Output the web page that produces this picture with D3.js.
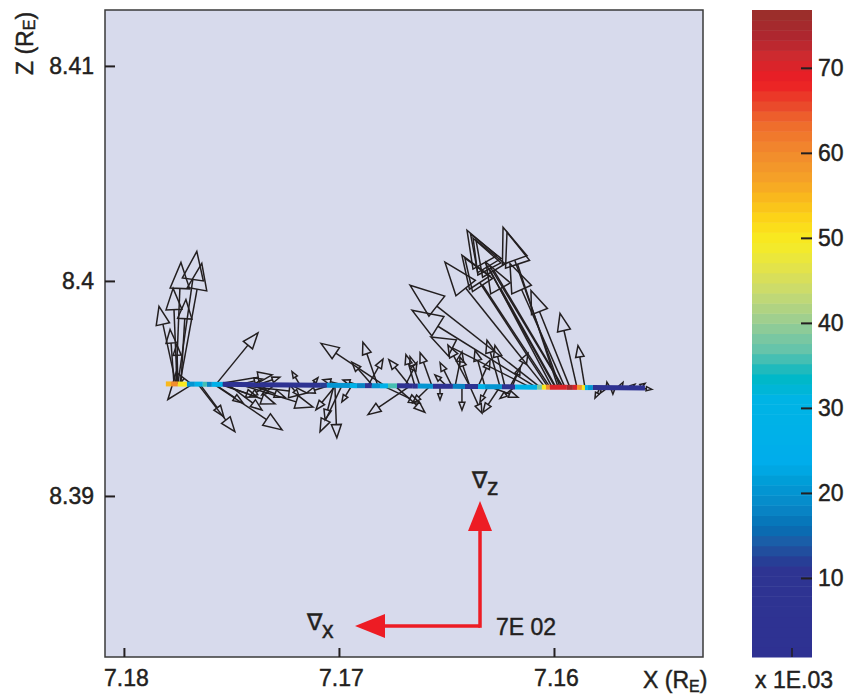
<!DOCTYPE html>
<html>
<head>
<meta charset="utf-8">
<script src="https://cdn.jsdelivr.net/npm/d3@7"></script>
<style>
  body { margin: 0; background: #fff; }
  svg { display: block; }
  text { font-family: "Liberation Sans", Arial, Helvetica, sans-serif; fill: #231f20;
         stroke: #231f20; stroke-width: 0.45px; }
</style>
</head>
<body>
<svg id="chart" width="846" height="695"></svg>
<script>
// Axis ticks
const xTicks = [7.18, 7.17, 7.16];
const xTickLabels = ["7.18", "7.17", "7.16"];
const zTicks = [8.41, 8.40, 8.39];
const zTickLabels = ["8.41", "8.4", "8.39"];
const colorTicks = [10, 20, 30, 40, 50, 60, 70];

// Spacecraft track in the X-Z plane (R_E) and the colour-coded quantity (x 1E-03)
const pathX = [7.17805, 7.17781, 7.17749, 7.17707, 7.17670, 7.17633, 7.17614, 7.17591, 7.17540, 7.17367,
               7.17228, 7.17088, 7.17056, 7.16949, 7.16916, 7.16879, 7.16847, 7.16809, 7.16772, 7.16730,
               7.16656, 7.16633, 7.16563, 7.16470, 7.16414, 7.16353, 7.16321, 7.16242, 7.16181, 7.16079,
               7.16056, 7.16037, 7.16019, 7.15940, 7.15912, 7.15893, 7.15870, 7.15856, 7.15842, 7.15819,
               7.15577];
const pathZ = [8.39521, 8.39521, 8.39521, 8.39520, 8.39520, 8.39520, 8.39519, 8.39519, 8.39519, 8.39517,
               8.39516, 8.39515, 8.39515, 8.39514, 8.39513, 8.39513, 8.39513, 8.39512, 8.39512, 8.39512,
               8.39511, 8.39511, 8.39510, 8.39510, 8.39509, 8.39509, 8.39508, 8.39508, 8.39507, 8.39506,
               8.39506, 8.39506, 8.39506, 8.39505, 8.39505, 8.39505, 8.39504, 8.39504, 8.39504, 8.39504,
               8.39502];
const pathValue = [55, 60, 50, 20, 28, 36, 18, 26, 4, 5,
                   6, 12, 20, 28, 18, 8, 20, 27, 36, 5,
                   8, 20, 5, 18, 10, 28, 20, 6, 29, 38,
                   50, 60, 70, 75, 70, 58, 50, 30, 20, 4,
                   4];

// Gradient vectors attached to the track: base X (R_E), in-plane components (x, z) and out-of-plane y
const arrowX = [7.17749, 7.17758, 7.17740, 7.17753, 7.17758, 7.17749, 7.17740, 7.17735, 7.17767,
                7.17572, 7.17572, 7.17581, 7.17656, 7.17647, 7.17577, 7.17553, 7.17544, 7.17181, 7.17507,
                7.17460, 7.17516, 7.17414, 7.17460, 7.17377,
                7.16786, 7.16819, 7.16865, 7.16670, 7.16647, 7.16693, 7.16842, 7.16972, 7.16902, 7.16986,
                7.17019, 7.17014, 7.17023, 7.16670, 7.16795, 7.16740, 7.16428, 7.16391, 7.17042, 7.16940,
                7.16623, 7.16474, 7.16391, 7.16251, 7.16228, 7.16205, 7.16577, 7.16251, 7.16298, 7.16307,
                7.16391, 7.16321, 7.16498, 7.16353,
                7.16567, 7.16460, 7.16195, 7.16530, 7.16181, 7.17330, 7.17298, 7.17228, 7.17126,
                7.15972, 7.15995, 7.16009, 7.16028, 7.16042, 7.16065, 7.16084, 7.16112, 7.15949, 7.15926,
                7.15893, 7.15856, 7.15991, 7.15960, 7.16019, 7.15958, 7.15981,
                7.15786, 7.15767, 7.15726, 7.15749, 7.15693, 7.15647, 7.15609, 7.15600];
const gradX = [-106, -28, -123, 22, 95, 6, 67, -28, 22,
               -235, -314, -381, -207, -134, -157, -207, -297, 45, -431,
               -409, -190, -196, -123, -123,
               358, 84, -84, 118, 50, -67, 118, 123, 95, 123,
               -11, 112, 50, 235, -207, -168, 0, -67, 129, 56,
               56, 67, 56, 73, 56, -101, 95, 95, -157, 45,
               123, 56, 67, -67,
               67, -39, -45, 0, 84, 101, 73, -50, -34,
               319, 493, 442, 482, 560, 728, 694, 554, 308, 218,
               95, 39, 392, 515, 476, 487, 286,
               28, 22, 0, 6, -17, -28, -39, -67];
const gradZ = [742, 680, 675, 535, 434, 221, -87, 473, 305,
               288, 53, -255, -266, -182, -104, -70, -109, 76, -48,
               -126, -143, -70, 31, 42,
               238, 244, 148, 148, 176, 132, 132, 31, 31, -260,
               -294, -137, -193, -160, -98, -148, -132, -148, -42, -92,
               165, 132, 165, 260, 232, 188, -92, -143, -59, -87,
               232, 204, 64, 148,
               188, 193, 109, -76, -64, -64, -56, -59, 42,
               896, 879, 834, 739, 700, 571, 431, 280, 694, 543,
               414, 235, 700, 857, 722, 823, 868,
               -59, -31, -36, 31, 31, 20, 25, -8];
const gradY = [0, 0, 0, 0, 0, 0, 690, 0, 0,
               0, 0, 0, 0, 0, 0, 0, 0, 0, 0,
               0, 0, 0, 0, 0,
               0, 0, 0, 0, 0, 0, 0, 0, 0, 0,
               0, 0, 0, 0, 0, 0, 0, 0, 0, 0,
               0, 0, 0, 0, 0, 0, 0, 0, 0, 0,
               0, 0, 0, 0,
               0, 0, 0, 0, 0, 0, 0, 0, 0,
               0, 0, 0, 0, 0, 0, 0, 0, 0, 0,
               0, 0, 0, 0, 0, 0, 0,
               0, 0, 0, 0, 0, 0, 0, 0];

// Reference vector of the key
const keyValue = 700;
const keyLabel = "7E 02";
const keyOriginX = 7.16344;
const keyOriginZ = 8.38395;

// Colour map of the bar (value -> colour)
const colorStops = [0, 11, 12.5, 14, 16, 18.5, 21.5, 23.5, 31, 33.5, 35, 36.5, 38.5, 40.5, 43.5,
                    46.5, 49.5, 52, 54.5, 57, 60, 63.5, 65.5, 68.5, 71.5, 73.5, 77];
const colorValues = ["#2e3192", "#2e3492", "#244398", "#1e5aa5", "#0670b4", "#0888c8", "#009ed8",
                     "#00adeb", "#00b4e5", "#00b8c8", "#2bbbb9", "#5ec3ad", "#7fc8a0", "#a0cf8e",
                     "#c7da71", "#e3e34a", "#f7ec23", "#fdd817", "#f9bb1c", "#f5a128", "#f18b2d",
                     "#ef6b2c", "#ea4a2b", "#ed1c24", "#cc2a2f", "#b0262f", "#96302a"];
const colorMin = 0.7, colorMax = 76.8, colorBands = 64;

const svg = d3.select("#chart");
const ink = "#231f20";

const plot = { left: 105, right: 703, top: 10, bottom: 657 };
const x = d3.scaleLinear().domain([7.18088, 7.15307]).range([plot.left, plot.right]);
const z = d3.scaleLinear().domain([8.38251, 8.41260]).range([plot.bottom, plot.top]);
const vecLen = d3.scaleLinear().domain([0, keyValue]).range([0, 125]);

const cont = d3.scaleLinear().domain(colorStops).range(colorValues).interpolate(d3.interpolateRgb).clamp(true);
const bandW = (colorMax - colorMin) / colorBands;
const quant = v => {
  const i = Math.max(0, Math.min(colorBands - 1, Math.floor((v - colorMin) / bandW)));
  return cont(colorMin + (i + 0.5) * bandW);
};

// Plot background
svg.append("rect")
  .attr("x", plot.left).attr("y", plot.top)
  .attr("width", plot.right - plot.left).attr("height", plot.bottom - plot.top)
  .attr("fill", "#d7daec");

svg.append("clipPath").attr("id", "plotclip")
  .append("rect").attr("x", plot.left).attr("y", plot.top)
  .attr("width", plot.right - plot.left).attr("height", plot.bottom - plot.top);

const g = svg.append("g").attr("clip-path", "url(#plotclip)");

// Gradient arrows
const baseZ = d3.scaleLinear().domain(pathX).range(pathZ);
const arrows = arrowX.map((bx, i) => {
  const x0 = x(bx), y0 = z(baseZ(bx));
  const dx = -vecLen(gradX[i]);   // +X points to the left (reversed axis)
  const dy = -vecLen(gradZ[i]);
  const L = Math.hypot(dx, dy);
  const L3 = Math.hypot(L, vecLen(gradY[i]));
  const h = 3.5 + 0.185 * L3;
  const w = 0.75 * h;
  const ux = dx / L, uy = dy / L;
  const nx = -uy, ny = ux;
  const tx = x0 + dx, ty = y0 + dy;
  const hx = tx - ux * h, hy = ty - uy * h;
  return { x0, y0, hx, hy,
           head: [[tx, ty], [hx + nx * w / 2, hy + ny * w / 2], [hx - nx * w / 2, hy - ny * w / 2]] };
});

const ag = g.append("g").attr("stroke", ink).attr("stroke-width", 1.5).attr("fill", "none");
ag.selectAll("line.shaft").data(arrows).join("line").attr("class", "shaft")
  .attr("x1", d => d.x0).attr("y1", d => d.y0)
  .attr("x2", d => d.hx).attr("y2", d => d.hy);
ag.selectAll("path.head").data(arrows).join("path").attr("class", "head")
  .attr("stroke-linejoin", "miter")
  .attr("d", d => d3.line()(d.head) + "Z");

// Colour-coded track
const segs = d3.range(pathX.length - 1).map(i => ({
  x1: x(pathX[i]), y1: z(pathZ[i]), x2: x(pathX[i + 1]), y2: z(pathZ[i + 1]), v: pathValue[i]
}));
g.append("g").selectAll("line").data(segs).join("line")
  .attr("x1", d => d.x1).attr("y1", d => d.y1)
  .attr("x2", d => d.x2).attr("y2", d => d.y2)
  .attr("stroke", d => quant(d.v)).attr("stroke-width", 5).attr("stroke-linecap", "butt");

// Key: reference vectors
const red = "#ed1c24";
const kx = x(keyOriginX), kz = z(keyOriginZ);
const keyLen = vecLen(keyValue);
const kh = 30, kw = 24;
g.append("line").attr("x1", kx).attr("y1", kz).attr("x2", kx - keyLen + kh).attr("y2", kz)
  .attr("stroke", red).attr("stroke-width", 3.5);
g.append("path").attr("fill", red)
  .attr("d", d3.line()([[kx - keyLen, kz], [kx - keyLen + kh, kz - kw / 2], [kx - keyLen + kh, kz + kw / 2]]) + "Z");
g.append("line").attr("x1", kx).attr("y1", kz + 1.75).attr("x2", kx).attr("y2", kz - keyLen + kh)
  .attr("stroke", red).attr("stroke-width", 3.5);
g.append("path").attr("fill", red)
  .attr("d", d3.line()([[kx, kz - keyLen], [kx - kw / 2, kz - keyLen + kh], [kx + kw / 2, kz - keyLen + kh]]) + "Z");

const fs = 23;
const nz = svg.append("text").attr("x", kx - 8).attr("y", kz - keyLen - 13).attr("font-size", fs);
nz.append("tspan").text("∇");
nz.append("tspan").attr("dy", 7).text("z");
const nxl = svg.append("text").attr("x", kx - keyLen - 48).attr("y", kz + 4).attr("font-size", fs);
nxl.append("tspan").text("∇");
nxl.append("tspan").attr("dy", 8).text("x");
svg.append("text").attr("x", kx + 16).attr("y", kz + 9).attr("font-size", fs).text(keyLabel);

// Frame
svg.append("rect")
  .attr("x", plot.left).attr("y", plot.top)
  .attr("width", plot.right - plot.left).attr("height", plot.bottom - plot.top)
  .attr("fill", "none").attr("stroke", "#3a3a3a").attr("stroke-width", 1.5);

// X axis: ticks drawn inward
const xa = svg.append("g").attr("transform", `translate(0,${plot.bottom})`)
  .call(d3.axisBottom(x).tickValues(xTicks).tickSize(-9).tickFormat((d, i) => xTickLabels[i]));
xa.select(".domain").remove();
xa.selectAll(".tick line").attr("stroke", ink).attr("stroke-width", 2);
xa.selectAll(".tick text").attr("font-size", fs).attr("fill", ink)
  .attr("font-family", "Liberation Sans, Arial, sans-serif").attr("y", 13).attr("dy", "0.71em").attr("dx", 2);

// Z axis: ticks drawn inward
const za = svg.append("g").attr("transform", `translate(${plot.left},0)`)
  .call(d3.axisLeft(z).tickValues(zTicks).tickSize(-10).tickFormat((d, i) => zTickLabels[i]));
za.select(".domain").remove();
za.selectAll(".tick line").attr("stroke", ink).attr("stroke-width", 2);
za.selectAll(".tick text").attr("font-size", fs).attr("fill", ink)
  .attr("font-family", "Liberation Sans, Arial, sans-serif").attr("x", -11);

// Axis titles
const xt = svg.append("text").attr("x", 643).attr("y", 688).attr("font-size", fs);
xt.append("tspan").text("X (R");
xt.append("tspan").attr("font-size", 16).attr("dy", 4).text("E");
xt.append("tspan").attr("dy", -4).text(")");

const zt = svg.append("text").attr("transform", "translate(33,75) rotate(-90)").attr("font-size", fs);
zt.append("tspan").text("Z (R");
zt.append("tspan").attr("font-size", 16).attr("dy", 2).text("E");
zt.append("tspan").attr("dy", -2).text(")");

// Colour bar
const cb = { left: 752, right: 812 };
const c = d3.scaleLinear().domain([colorMin, colorMax]).range([plot.bottom, plot.top]);
const bands = d3.range(colorBands).map(i => ({ v0: colorMin + i * bandW, v1: colorMin + (i + 1) * bandW }));
svg.append("g").selectAll("rect").data(bands).join("rect")
  .attr("x", cb.left).attr("width", cb.right - cb.left)
  .attr("y", d => c(d.v1)).attr("height", d => c(d.v0) - c(d.v1) + 0.5)
  .attr("fill", d => cont((d.v0 + d.v1) / 2));

const ca = svg.append("g").attr("transform", `translate(${cb.right},0)`)
  .call(d3.axisRight(c).tickValues(colorTicks).tickSize(-11).tickFormat(d3.format("d")));
ca.select(".domain").remove();
ca.selectAll(".tick line").attr("stroke", ink).attr("stroke-width", 2);
ca.selectAll(".tick text").attr("font-size", fs).attr("fill", ink)
  .attr("font-family", "Liberation Sans, Arial, sans-serif").attr("x", 6);

svg.append("line").attr("x1", 792).attr("x2", 792).attr("y1", plot.bottom - 9).attr("y2", plot.bottom)
  .attr("stroke", ink).attr("stroke-width", 1.5);

svg.append("text").attr("x", 755).attr("y", 688).attr("font-size", fs).text("x 1E.03");
</script>
</body>
</html>
